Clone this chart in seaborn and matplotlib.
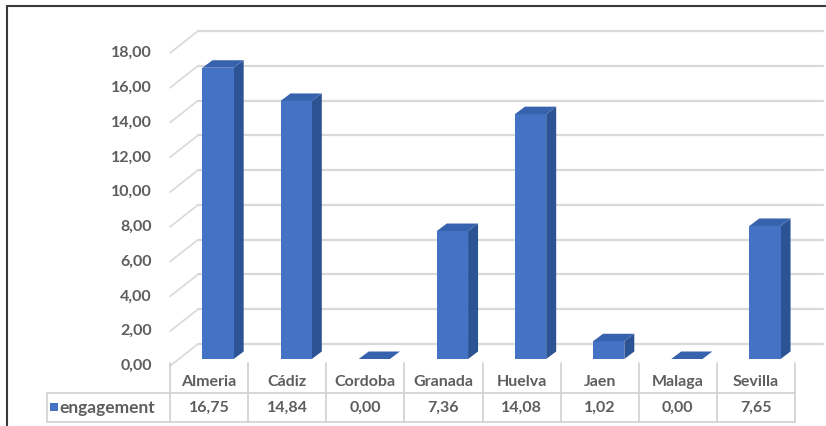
import matplotlib
matplotlib.use("Agg")
import matplotlib.pyplot as plt
from matplotlib.lines import Line2D
from matplotlib.patches import Polygon, Rectangle
import pandas as pd
import seaborn as sns

# ---- data -------------------------------------------------------------
provinces = ["Almeria", "Cádiz", "Cordoba", "Granada",
             "Huelva", "Jaen", "Malaga", "Sevilla"]
engagement = [16.75, 14.84, 0.00, 7.36, 14.08, 1.02, 0.00, 7.65]
value_ticks = [0, 2, 4, 6, 8, 10, 12, 14, 16, 18]
series_name = "engagement"

df = pd.DataFrame({"province": provinces, series_name: engagement})

# ---- style ------------------------------------------------------------
sns.set_theme(style="white")
plt.rcParams["font.family"] = ["Lato", "DejaVu Sans"]

FRONT = "#4472C4"
SIDE = "#2C5393"
TOP = "#3762AE"
GRID = "#D9D9D9"
TABLE = "#D0D0D0"
TEXT = "#5E5E5E"

W, H, DPI = 826, 426, 100
fig = plt.figure(figsize=(W / DPI, H / DPI), dpi=DPI)
fig.patch.set_facecolor("white")

# plot area (front plane of the columns), in pixels from the top-left
L, T, R, B = 179, 46, 804, 359
ax = fig.add_axes([L / W, 1 - B / H, (R - L) / W, (B - T) / H])
ax.set_facecolor("none")

n = len(provinces)
YMAX = value_ticks[-1]
PX_X = (R - L) / n          # pixels per category
PX_Y = (B - T) / YMAX       # pixels per value unit


def ox(px):
    """horizontal pixel offset -> data units"""
    return px / PX_X


def oy(px):
    """vertical pixel offset (upwards) -> data units"""
    return px / PX_Y


def yrow(py):
    """pixel row (from top) -> data y"""
    return (B - py) / PX_Y


# pseudo-3D depth vectors (pixels): front edge, back wall, column depth
FRONT_D = (-9, -7)
BACK_D = (19, 15)
BAR_D = (10, 7.5)

# front faces of the columns
sns.barplot(data=df, x="province", y=series_name, color=FRONT,
            saturation=1, width=0.40, linewidth=0, ax=ax, zorder=3)
ax.set_xlim(-0.5, n - 0.5)
ax.set_ylim(0, YMAX)
ax.axis("off")

# back wall gridlines and side wall diagonals
x_left = -0.5
x_right = n - 0.5
for v in value_ticks:
    bx, by = ox(BACK_D[0]), oy(BACK_D[1])
    fx, fy = ox(FRONT_D[0]), oy(FRONT_D[1])
    ax.add_line(Line2D([x_left + bx, x_right + bx], [v + by, v + by],
                       color=GRID, lw=1.6, clip_on=False, zorder=1))
    ax.add_line(Line2D([x_left + fx, x_left + bx], [v + fy, v + by],
                       color=GRID, lw=1.2, clip_on=False, zorder=1))
    ax.text(x_left + fx - ox(18), v + fy, f"{v:.2f}".replace(".", ","),
            ha="right", va="center", fontsize=11.5, color=TEXT,
            fontweight="bold", clip_on=False)

# side and top faces of every column
dx, dy = ox(BAR_D[0]), oy(BAR_D[1])
for bar in list(ax.patches):
    x0, w, h = bar.get_x(), bar.get_width(), bar.get_height()
    side = [(x0 + w, 0), (x0 + w + dx, dy), (x0 + w + dx, h + dy), (x0 + w, h)]
    top = [(x0, h), (x0 + w, h), (x0 + w + dx, h + dy), (x0 + dx, h + dy)]
    ax.add_patch(Polygon(side, closed=True, facecolor=SIDE, edgecolor="none",
                         zorder=2.5, clip_on=False))
    ax.add_patch(Polygon(top, closed=True, facecolor=TOP, edgecolor="none",
                         zorder=3.5, clip_on=False))

# ---- data table under the plot ------------------------------------------
fx = ox(FRONT_D[0])
row_top, row_mid, row_bot = yrow(363), yrow(393), yrow(422)
legend_left = x_left + fx - ox(170 - 47)

for i in range(n + 1):
    xb = i - 0.5 + fx
    ax.add_line(Line2D([xb, xb], [row_top, row_bot], color=TABLE, lw=1.2,
                       clip_on=False))
ax.add_line(Line2D([legend_left, legend_left], [row_mid, row_bot],
                   color=TABLE, lw=1.2, clip_on=False))
for yy in (row_mid, row_bot):
    ax.add_line(Line2D([legend_left, x_right + fx], [yy, yy], color=TABLE,
                       lw=1.2, clip_on=False))

for i, (name, val) in enumerate(zip(provinces, engagement)):
    ax.text(i + fx, yrow(382), name, ha="center", va="center",
            fontsize=11.5, color=TEXT, fontweight="bold", clip_on=False)
    ax.text(i + fx, yrow(408), f"{val:.2f}".replace(".", ","),
            ha="center", va="center", fontsize=11.5, color=TEXT,
            fontweight="bold", clip_on=False)

# legend key inside the table
ax.add_patch(Rectangle((legend_left + ox(3), yrow(411)), ox(8), oy(8),
                       facecolor=FRONT, edgecolor="none", clip_on=False))
ax.text(legend_left + ox(12), yrow(408), series_name, ha="left",
        va="center", fontsize=12.5, color=TEXT, fontweight="bold",
        clip_on=False)

# outer frame (left and top edges)
fig.add_artist(Line2D([7 / W, 7 / W], [0, 1 - 6 / H], color="#3A3A3A",
                      lw=1.5, transform=fig.transFigure))
fig.add_artist(Line2D([7 / W, 1], [1 - 6 / H, 1 - 6 / H], color="#3A3A3A",
                      lw=1.5, transform=fig.transFigure))

fig.savefig("out.png", dpi=DPI, facecolor="white")
